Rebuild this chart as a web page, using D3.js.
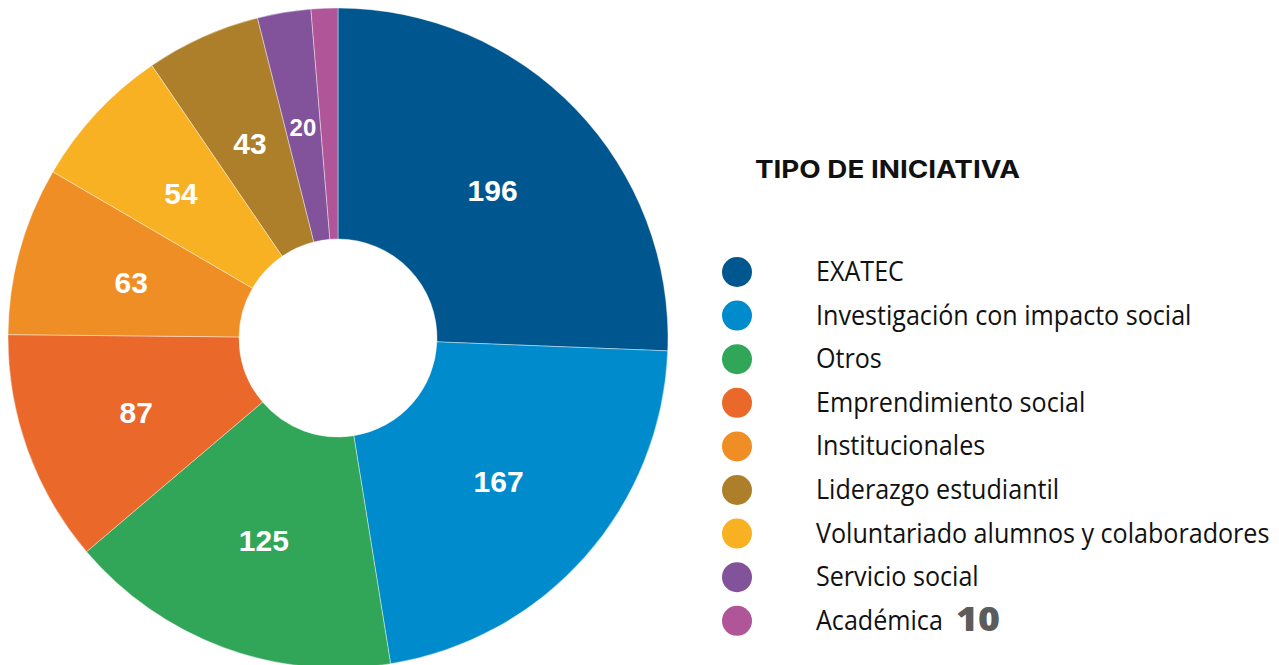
<!DOCTYPE html>
<html>
<head>
<meta charset="utf-8">
<script src="https://cdn.jsdelivr.net/npm/d3@7"></script>
<style>
  body { margin: 0; background: #fff; }
</style>
</head>
<body>
<div id="chart"></div>
<script>
// categories in legend order, with counts and colours
const categories = ["EXATEC", "Investigación con impacto social", "Otros", "Emprendimiento social",
                    "Institucionales", "Liderazgo estudiantil", "Voluntariado alumnos y colaboradores",
                    "Servicio social", "Académica"]
const values = [196, 167, 125, 87, 63, 43, 54, 20, 10]
const colors = ["#00568e", "#008ccc", "#32a658", "#e9682a", "#f08e26", "#ad7f2a", "#f8b122", "#82539a", "#b05597"]
const legendTitle = "TIPO DE INICIATIVA"

const width = 1279, height = 665

const data = categories.map((c, i) => ({ name: c, value: values[i], color: colors[i] }))

const svg = d3.select("#chart")
    .append("svg")
    .attr("width", width)
    .attr("height", height)
    .attr("viewBox", [0, 0, width, height])

// pie - sorted by value, starting at 12 o'clock
const cx = 338, cy = 338, outerR = 330, innerR = 99

const pie = d3.pie().value(d => d.value)
const arc = d3.arc().innerRadius(innerR).outerRadius(outerR)

const g = svg.append("g").attr("transform", `translate(${cx},${cy})`)

const slice = g.selectAll(".slice")
    .data(pie(data))
    .join("g")
    .attr("class", "slice")

slice.append("path")
    .attr("d", arc)
    .attr("fill", d => d.data.color)
    .attr("stroke", "#fff")
    .attr("stroke-width", 0.4)

// value labels, skip the tiny last slice (its value sits in the legend)
slice.filter(d => d.data.value >= 20)
    .append("text")
    .attr("transform", d => `translate(${arc.centroid(d)})`)
    .attr("text-anchor", "middle")
    .attr("dy", "0.4em")
    .style("font-family", "'Liberation Sans', Arial, sans-serif")
    .style("font-weight", "bold")
    .style("font-size", d => d.data.value < 30 ? "24px" : "30px")
    .style("fill", "#fff")
    .text(d => d.data.value)

// legend
const legendX = 737, textX = 816, rowY = 272, rowStep = 43.6

svg.append("text")
    .attr("x", 755)
    .attr("y", 178)
    .style("font-family", "Inter, 'DejaVu Sans', sans-serif")
    .style("font-weight", "bold")
    .style("font-size", "24px")
    .attr("textLength", 265)
    .attr("lengthAdjust", "spacingAndGlyphs")
    .style("fill", "#111")
    .text(legendTitle)

const item = svg.selectAll(".legend")
    .data(data)
    .join("g")
    .attr("class", "legend")
    .attr("transform", (d, i) => `translate(0,${rowY + i * rowStep})`)

item.append("circle")
    .attr("cx", legendX)
    .attr("r", 15)
    .attr("fill", d => d.color)

item.append("text")
    .attr("transform", `translate(${textX},9) scale(0.93,1)`)
    .style("font-family", "'Open Sans', sans-serif")
    .style("font-size", "27px")
    .style("fill", "#111")
    .text(d => d.name)

// the small slice's count sits next to its legend entry
const last = data[data.length - 1]
svg.append("text")
    .attr("x", 956)
    .attr("y", rowY + (data.length - 1) * rowStep + 10)
    .style("font-family", "'Open Sans', sans-serif")
    .style("font-weight", "800")
    .style("font-size", "33px")
    .attr("textLength", 44)
    .attr("lengthAdjust", "spacingAndGlyphs")
    .style("fill", "#5c5c5c")
    .text(last.value)
</script>
</body>
</html>
